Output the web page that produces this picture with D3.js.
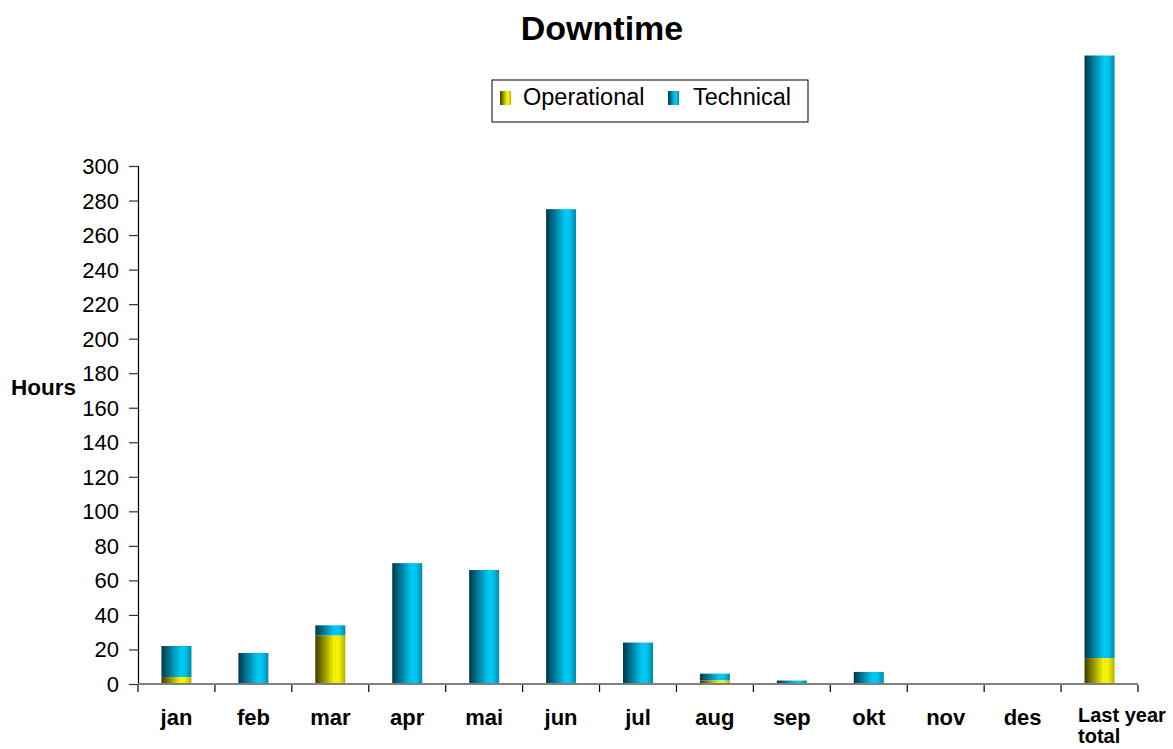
<!DOCTYPE html>
<html>
<head>
<meta charset="utf-8">
<script src="https://cdn.jsdelivr.net/npm/d3@7"></script>
<style>
body { margin: 0; background: #fff; }
text { font-family: Arial, "Liberation Sans", sans-serif; }
</style>
</head>
<body>
<script>
// dati
const categorie = ["jan", "feb", "mar", "apr", "mai", "jun", "jul", "aug", "sep", "okt", "nov", "des", "Last year total"];
const operativo = [4, 0, 28, 0, 0, 0, 0, 2, 0, 0, 0, 0, 15];
const tecnico = [18, 18, 6, 70, 66, 275, 24, 4, 2, 7, 0, 0, 349];
const tickY = [0, 20, 40, 60, 80, 100, 120, 140, 160, 180, 200, 220, 240, 260, 280, 300];
const serie = ["Operational", "Technical"];

const W = 1173, H = 749;
const margine = { sinistra: 138, destra: 1138, alto: 166, basso: 684 };

let svg = d3.select("body").append("svg")
    .attr("width", W)
    .attr("height", H);

// gradienti orizzontali per le barre
let defs = svg.append("defs");
function gradiente(id, scuro, chiaro, destra) {
    let g = defs.append("linearGradient").attr("id", id)
        .attr("x1", "0%").attr("x2", "100%").attr("y1", "0%").attr("y2", "0%");
    g.append("stop").attr("offset", "0%").attr("stop-color", scuro);
    g.append("stop").attr("offset", "62%").attr("stop-color", chiaro);
    g.append("stop").attr("offset", "78%").attr("stop-color", chiaro);
    g.append("stop").attr("offset", "100%").attr("stop-color", destra);
}
gradiente("gradTec", "#00384a", "#00c6f2", "#0088a8");
gradiente("gradOp", "#3c3c00", "#f2f200", "#b0b000");

// scale
let scalaX = d3.scaleBand()
    .domain(categorie)
    .range([margine.sinistra, margine.destra])
    .paddingInner(0.61)
    .paddingOuter(0.305);

let scalaY = d3.scaleLinear()
    .domain([0, 300])
    .range([margine.basso, margine.alto]);

let stack = categorie.map(function (c, i) {
    return { cat: c, op: operativo[i], tec: tecnico[i] };
});

// barre
let gruppi = svg.append("g");
stack.forEach(function (d) {
    if (d.tec > 0) {
        gruppi.append("rect")
            .attr("x", scalaX(d.cat))
            .attr("width", scalaX.bandwidth())
            .attr("y", scalaY(d.op + d.tec))
            .attr("height", scalaY(d.op) - scalaY(d.op + d.tec))
            .attr("fill", "url(#gradTec)");
    }
    if (d.op > 0) {
        gruppi.append("rect")
            .attr("x", scalaX(d.cat))
            .attr("width", scalaX.bandwidth())
            .attr("y", scalaY(d.op))
            .attr("height", scalaY(0) - scalaY(d.op))
            .attr("fill", "url(#gradOp)");
    }
});

// asse y
let asseY = d3.axisLeft(scalaY).tickValues(tickY).tickSize(9).tickPadding(10);
let gy = svg.append("g")
    .attr("transform", `translate(${margine.sinistra},0)`)
    .call(asseY);
gy.select(".domain").attr("stroke", "#000").attr("stroke-width", 1.2);
gy.selectAll(".tick line").attr("stroke", "#333").attr("stroke-width", 1.2);
gy.selectAll(".tick text").attr("font-size", "22px").attr("fill", "#000").attr("dy", "0.34em");

// asse x
let gx = svg.append("g")
    .attr("transform", `translate(0,${margine.basso})`);
gx.append("line")
    .attr("x1", margine.sinistra).attr("x2", margine.destra)
    .attr("y1", 0).attr("y2", 0)
    .attr("stroke", "#808080").attr("stroke-width", 2);
let passo = scalaX.step();
d3.range(categorie.length + 1).forEach(function (i) {
    gx.append("line")
        .attr("x1", margine.sinistra + i * passo).attr("x2", margine.sinistra + i * passo)
        .attr("y1", 1).attr("y2", 8)
        .attr("stroke", "#000").attr("stroke-width", 1.2);
});
stack.forEach(function (d) {
    let cx = scalaX(d.cat) + scalaX.bandwidth() / 2;
    if (d.cat === "Last year total") {
        let t = gx.append("text")
            .attr("x", 1078).attr("y", 38)
            .attr("font-size", "20px").attr("font-weight", "bold");
        t.append("tspan").attr("x", 1078).text("Last year");
        t.append("tspan").attr("x", 1078).attr("dy", 21).text("total");
    } else {
        gx.append("text")
            .attr("x", cx).attr("y", 41)
            .attr("text-anchor", "middle")
            .attr("font-size", "22px").attr("font-weight", "bold")
            .text(d.cat);
    }
});

// titolo
svg.append("text")
    .attr("x", 602).attr("y", 40)
    .attr("text-anchor", "middle")
    .attr("font-size", "34px").attr("font-weight", "bold")
    .text("Downtime");

// etichetta asse y
svg.append("text")
    .attr("x", 11).attr("y", 395)
    .attr("font-size", "22.5px").attr("font-weight", "bold")
    .text("Hours");

// legenda
let legenda = svg.append("g").attr("transform", "translate(492,80)");
legenda.append("rect")
    .attr("width", 316).attr("height", 42)
    .attr("fill", "#fff").attr("stroke", "#000").attr("stroke-width", 1);
let voci = [{ nome: serie[0], grad: "url(#gradOp)", x: 8, tx: 31 }, { nome: serie[1], grad: "url(#gradTec)", x: 176, tx: 201 }];
voci.forEach(function (v) {
    legenda.append("rect")
        .attr("x", v.x).attr("y", 11).attr("width", 11).attr("height", 14)
        .attr("fill", v.grad);
    legenda.append("text")
        .attr("x", v.tx).attr("y", 25)
        .attr("font-size", "23.5px")
        .text(v.nome);
});
</script>
</body>
</html>
